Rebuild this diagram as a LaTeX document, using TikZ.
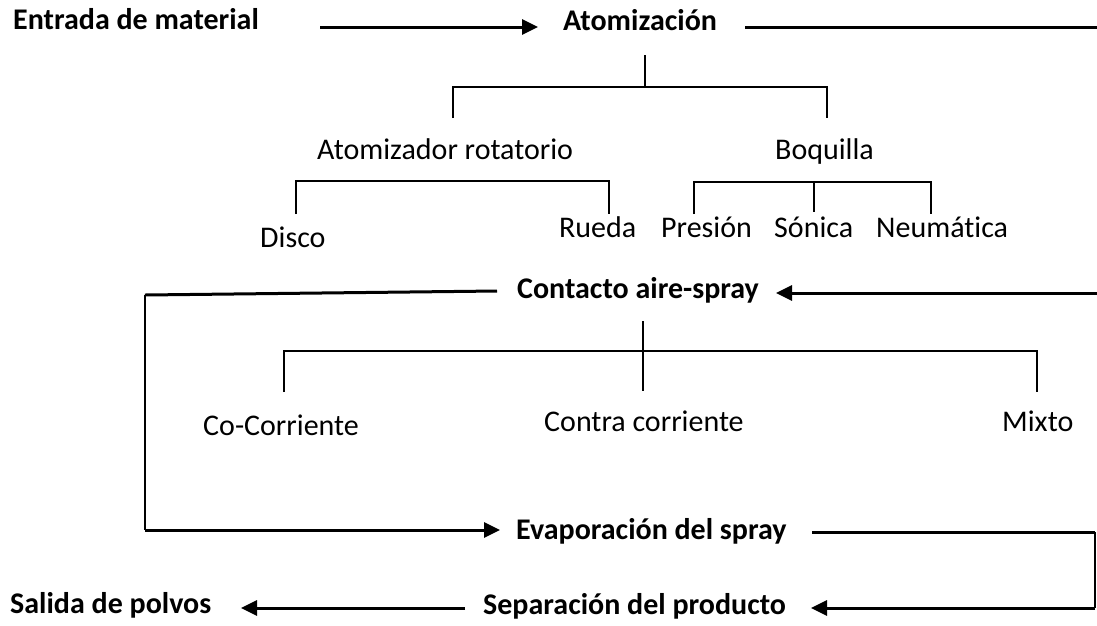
\documentclass[tikz,border=0pt]{standalone}
\usepackage{fontspec}
\setmainfont[Ligatures=NoCommon]{Carlito}
\usetikzlibrary{arrows.meta}
\begin{document}
\begin{tikzpicture}[x=1pt,y=-1pt,
  lbl/.style={anchor=base west,inner sep=0pt,font=\fontsize{30}{36}\selectfont},
  blbl/.style={lbl,font=\fontsize{30}{36}\selectfont\bfseries},
  thinln/.style={line width=1.6pt},
  thickln/.style={line width=3pt},
  flow/.style={thickln,-{Triangle[length=16pt,width=15pt]}}]
\useasboundingbox (0,0) rectangle (1097,625);
% text
\node[blbl] (entrada) at (13,29) {Entrada de material};
\node[blbl] (atom) at (563,30) {Atomización};
\node[lbl] (rot) at (317,159) {Atomizador rotatorio};
\node[lbl] (boq) at (775,159) {Boquilla};
\node[lbl] (disco) at (260,247) {Disco};
\node[lbl] (rueda) at (559,237) {Rueda};
\node[lbl] (pres) at (661,237) {Presión};
\node[lbl] (son) at (774,237) {Sónica};
\node[lbl] (neu) at (876,237) {Neumática};
\node[blbl] (cont) at (517,298) {Contacto aire-spray};
\node[lbl] (co) at (203,435) {Co-Corriente};
\node[lbl] (contra) at (544,431) {Contra corriente};
\node[lbl] (mixto) at (1002,431) {Mixto};
\node[blbl] (evap) at (516,539) {Evaporación del spray};
\node[blbl] (sep) at (483,614) {Separación del producto};
\node[blbl] (sal) at (10,613) {Salida de polvos};
% coordinates
\coordinate (a0) at (320,27);
\coordinate (a1) at (538,27);
\coordinate (a2) at (745,27);
\coordinate (a3) at (1097,27);
\coordinate (s0) at (645,55);
\coordinate (s1) at (645,87);
\coordinate (b0) at (453,87);
\coordinate (b1) at (827,87);
\coordinate (r0) at (296,181);
\coordinate (r1) at (609,181);
\coordinate (q0) at (694,182);
\coordinate (q1) at (814,182);
\coordinate (q2) at (931,182);
\coordinate (c0) at (1097,293);
\coordinate (c1) at (776,293);
\coordinate (l0) at (497,291);
\coordinate (l1) at (145,295);
\coordinate (l2) at (145,530);
\coordinate (l3) at (500,530);
\coordinate (m0) at (643,321);
\coordinate (m1) at (643,351);
\coordinate (k0) at (284,351);
\coordinate (k1) at (1037,351);
\coordinate (e0) at (812,532);
\coordinate (e1) at (1095,532);
\coordinate (e2) at (1095,608);
\coordinate (e3) at (811,608);
\coordinate (p0) at (465,608);
\coordinate (p1) at (241,608);
% flows
\draw[flow] (a0) -- (a1);
\draw[thickln] (a2) -- (a3);
\draw[flow] (c0) -- (c1);
\draw[thickln] (l0) -- (l1);
\draw[thinln] (l1) -- (l2);
\draw[flow] (l2) -- (l3);
\draw[thickln] (e0) -- (e1);
\draw[thinln] (e1) -- (e2);
\draw[flow] (e2) -- (e3);
\draw[flow] (p0) -- (p1);
% brackets
\draw[thinln] (s0) -- (s1);
\draw[thinln] (b0 |- 0,118) -- (b0) -- (b1) -- (b1 |- 0,118);
\draw[thinln] (r0 |- 0,214) -- (r0) -- (r1) -- (r1 |- 0,214);
\draw[thinln] (q0 |- 0,214) -- (q0) -- (q2) -- (q2 |- 0,214);
\draw[thinln] (q1) -- (q1 |- 0,212);
\draw[thinln] (m0) -- (m0 |- 0,391);
\draw[thinln] (k0 |- 0,392) -- (k0) -- (k1) -- (k1 |- 0,392);
\end{tikzpicture}
\end{document}
